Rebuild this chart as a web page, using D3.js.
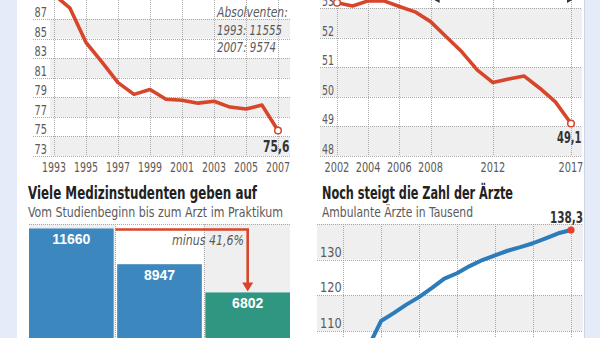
<!DOCTYPE html>
<html><head><meta charset="utf-8">
<script src="https://cdn.jsdelivr.net/npm/d3@7"></script>
<style>body{margin:0;background:#fff}svg{display:block}</style>
</head><body><svg id="c" width="600" height="338"></svg>
<script>
// ---- Panel A: Absolventen-Quote (top left)
const gradYears = [1993,1994,1995,1996,1997,1998,1999,2000,2001,2002,2003,2004,2005,2006,2007];
const gradShare = [89.5,88.1,84.6,82.6,80.5,79.3,79.8,78.8,78.7,78.4,78.6,78.0,77.8,78.2,75.6];
const gradTicksY = [73,75,77,79,81,83,85,87];
const gradTicksX = [1993,1995,1997,1999,2001,2003,2005,2007];
const gradNote = ["Absolventen:","1993: 11555","2007: 9574"];
const gradEndLabel = "75,6";

// ---- Panel B: top right
const bYears = [2002,2003,2004,2005,2006,2007,2008,2009,2010,2011,2012,2013,2014,2015,2016,2017];
const bValues = [53.18,53.07,53.24,53.24,53.05,52.87,52.54,52.03,51.52,50.9,50.48,50.6,50.7,50.29,49.83,49.1];
const bTicksY = [48,49,50,51,52,53];
const bTicksX = [2002,2004,2006,2008,2012,2017];
const bEndLabel = "49,1";

// ---- Panel C: Studienabbruch (bottom left)
const studTitle = "Viele Medizinstudenten geben auf";
const studSub = "Vom Studienbeginn bis zum Arzt im Praktikum";
const studCats = ["Studienbeginn","Examen","Arzt im Praktikum"];
const studValues = [11660,8947,6802];
const studLabels = ["11660","8947","6802"];
const studDrop = "minus 41,6%";

// ---- Panel D: Ambulante Ärzte (bottom right)
const docTitle = "Noch steigt die Zahl der Ärzte";
const docSub = "Ambulante Ärzte in Tausend";
const docYears = [1989,1990,1991,1992,1993,1994,1995,1996,1997,1998,1999,2000,2001,2002,2003,2004,2005];
const docValues = [105.5,112.8,115.0,117.4,119.5,122.0,124.7,126.2,128.2,129.9,131.2,132.5,133.5,134.6,136.0,137.4,138.3];
const docTicksY = [110,120,130];
const docGridX = [1987,1990,1993,1996,1999,2002,2005];
const docEndLabel = "138,3";

const svg = d3.select("#c");
const NARROW = "'Liberation Sans Narrow','DejaVu Sans Condensed',sans-serif";
const RED = "#d7462b", BLUE = "#2c7cb9", GRAY_BAND = "#efefef", GRID = "#a9a9a9", TXT = "#5a5a5a";

// squeeze condensed-looking labels to the reference widths
function fit(sel, perChar){
  sel.attr("textLength", d => String(d).length*perChar).attr("lengthAdjust","spacingAndGlyphs");
}

// background
svg.append("rect").attr("width",600).attr("height",338).attr("fill","#e5ebf8");
svg.append("rect").attr("x",17).attr("width",567).attr("height",338).attr("fill","#fff");
svg.append("line").attr("x1",584.5).attr("x2",584.5).attr("y1",0).attr("y2",338).attr("stroke","#cfd5e2");

function hgrid(g, ticks, y, x0, x1){
  g.selectAll(null).data(ticks).join("line")
   .attr("x1",x0).attr("x2",x1).attr("y1",d=>Math.round(y(d))+0.5).attr("y2",d=>Math.round(y(d))+0.5)
   .attr("stroke",GRID).attr("stroke-dasharray","1,1");
}
function vgrid(g, ticks, x, y0, y1){
  g.selectAll(null).data(ticks).join("line")
   .attr("x1",d=>Math.round(x(d))+0.5).attr("x2",d=>Math.round(x(d))+0.5).attr("y1",y0).attr("y2",y1)
   .attr("stroke",GRID).attr("stroke-dasharray","1,1");
}

// ===== Panel A
{
  const x = d3.scaleLinear().domain([1993,2007]).range([54,278]);
  const y = d3.scaleLinear().domain([73,87]).range([156,19]);
  const g = svg.append("g");
  g.selectAll(null).data(gradTicksY.filter((d,i)=>i%2===0)).join("rect")
    .attr("x",50).attr("width",240).attr("y",d=>y(d+2)).attr("height",d=>y(d)-y(d+2)).attr("fill",GRAY_BAND);
  hgrid(g, gradTicksY, y, 33, 290);
  vgrid(g, gradTicksX, x, 0, 156);
  g.selectAll(null).data(gradTicksY).join("text")
    .attr("x",47).attr("y",d=>y(d)-2).attr("text-anchor","end")
    .attr("font-family",NARROW).attr("font-size",13.5).attr("fill",TXT).text(d=>d).call(fit,6.2);
  g.selectAll(null).data(gradTicksX).join("text")
    .attr("x",d=>x(d)-12).attr("y",172)
    .attr("font-family",NARROW).attr("font-size",13.5).attr("fill",TXT).text(d=>d).call(fit,6);
  const line = d3.line().x((d,i)=>x(gradYears[i])).y(d=>y(d));
  g.append("path").datum(gradShare).attr("d",line).attr("fill","none")
    .attr("stroke",RED).attr("stroke-width",3.6).attr("stroke-linejoin","round");
  const n = gradYears.length-1;
  g.append("circle").attr("cx",x(gradYears[n])).attr("cy",y(gradShare[n])).attr("r",3.3)
    .attr("fill","#fff").attr("stroke",RED).attr("stroke-width",1.5);
  g.append("text").datum(gradEndLabel).attr("x",263).attr("y",y(gradShare[n])+21)
    .attr("font-family",NARROW).attr("font-weight","bold").attr("font-size",15).attr("fill","#333")
    .text(d=>d).call(fit,6.6);
  g.selectAll(null).data(gradNote).join("text")
    .attr("x",217).attr("y",(d,i)=>17+i*17.5).attr("font-style","italic")
    .attr("font-family",NARROW).attr("font-size",14).attr("fill",TXT).text(d=>d).call(fit,5.9);
}

// ===== Panel B
{
  const x = d3.scaleLinear().domain([2002,2017]).range([337,571]);
  const y = d3.scaleLinear().domain([48,53]).range([156,8]);
  const g = svg.append("g");
  g.selectAll(null).data([48,50,52]).join("rect")
    .attr("x",320).attr("width",262).attr("y",d=>y(d+1)).attr("height",d=>y(d)-y(d+1)).attr("fill",GRAY_BAND);
  hgrid(g, bTicksY, y, 320, 582);
  vgrid(g, bTicksX, x, 0, 156);
  g.selectAll(null).data(bTicksY).join("text")
    .attr("x",322).attr("y",d=>y(d)-2)
    .attr("font-family",NARROW).attr("font-size",13.5).attr("fill",TXT).text(d=>d).call(fit,6);
  g.selectAll(null).data(bTicksX).join("text")
    .attr("x",d=>x(d)-12.5).attr("y",172)
    .attr("font-family",NARROW).attr("font-size",13.5).attr("fill",TXT).text(d=>d).call(fit,6.2);
  const line = d3.line().x((d,i)=>x(bYears[i])).y(d=>y(d));
  g.append("path").datum(bValues).attr("d",line).attr("fill","none")
    .attr("stroke",RED).attr("stroke-width",3.6).attr("stroke-linejoin","round");
  const n = bYears.length-1;
  [0,n].forEach(i=>{
    g.append("circle").attr("cx",x(bYears[i])).attr("cy",y(bValues[i])).attr("r",3.3)
      .attr("fill","#fff").attr("stroke",RED).attr("stroke-width",1.5);
  });
  g.append("text").datum(bEndLabel).attr("x",557).attr("y",y(bValues[n])+20)
    .attr("font-family",NARROW).attr("font-weight","bold").attr("font-size",15).attr("fill","#333")
    .text(d=>d).call(fit,6.1);
  // cut-off double arrow above the chart
  g.append("path").attr("d",`M${x(2008)+2},-1 L${x(2008)+9},-5 L${x(2008)+9},3 Z`).attr("fill","#333");
  g.append("path").attr("d",`M${x(2017)+3},-1 L${x(2017)-4},-5 L${x(2017)-4},3 Z`).attr("fill","#333");
}

// ===== Panel C
{
  const g = svg.append("g");
  g.append("text").attr("x",28).attr("y",199).attr("font-family",NARROW).attr("font-weight","bold")
    .attr("font-size",17).attr("fill","#222").attr("textLength",229).attr("lengthAdjust","spacingAndGlyphs").text(studTitle);
  g.append("text").attr("x",28).attr("y",217).attr("font-family",NARROW)
    .attr("font-size",13.5).attr("fill",TXT).attr("textLength",255).attr("lengthAdjust","spacingAndGlyphs").text(studSub);
  const x = d3.scaleBand().domain(studCats).range([29,290]).paddingInner(0.04);
  const y = d3.scaleLinear().domain([0,12000]).range([382,224]);
  const bw = x.bandwidth(), gap = x.step()-bw;
  const left = i => i===0 ? 29 : x(studCats[i]) - gap/2;
  const right = i => i===studCats.length-1 ? 290 : x(studCats[i]) + bw + gap/2;
  g.selectAll(null).data(studCats.filter((d,i)=>i%2===0)).join("rect")
    .attr("x",d=>left(studCats.indexOf(d))).attr("width",d=>right(studCats.indexOf(d))-left(studCats.indexOf(d)))
    .attr("y",y(12000)).attr("height",338-y(12000)).attr("fill",GRAY_BAND);
  g.append("line").attr("x1",29).attr("x2",290).attr("y1",y(12000)+0.5).attr("y2",y(12000)+0.5)
    .attr("stroke",GRID).attr("stroke-dasharray","1,1");
  g.selectAll(null).data([0,1]).join("line")
    .attr("x1",i=>Math.round(right(i))+0.5).attr("x2",i=>Math.round(right(i))+0.5)
    .attr("y1",y(12000)).attr("y2",338).attr("stroke",GRID).attr("stroke-dasharray","1,1");
  g.selectAll(null).data(studValues).join("rect")
    .attr("x",(d,i)=>x(studCats[i])).attr("width",bw).attr("y",d=>y(d)).attr("height",d=>338-y(d))
    .attr("fill",(d,i)=>i===2 ? "#2f9682" : "#3d87bf");
  g.selectAll(null).data(studValues).join("text")
    .attr("x",(d,i)=>x(studCats[i])+bw/2).attr("y",d=>y(d)+15.5).attr("text-anchor","middle")
    .attr("font-family","'Liberation Sans',Arial,sans-serif").attr("font-weight","bold").attr("font-size",14)
    .attr("fill","#fff").text((d,i)=>studLabels[i]);
  const xs = right(0), xe = x(studCats[2])+bw/2, y0 = y(studValues[0])+1, y1 = y(studValues[2]);
  g.append("path").attr("d",`M${xs},${y0} H${xe} V${y1-8}`).attr("fill","none")
    .attr("stroke",RED).attr("stroke-width",2.6);
  g.append("path").attr("d",`M${xe-5.5},${y1-10} L${xe+5.5},${y1-10} L${xe},${y1-1} Z`).attr("fill",RED);
  g.append("text").datum(studDrop).attr("x",172).attr("y",245).attr("font-style","italic")
    .attr("font-family",NARROW).attr("font-size",14).attr("fill",TXT).text(d=>d)
    .attr("textLength",72).attr("lengthAdjust","spacingAndGlyphs");
}

// ===== Panel D
{
  const g = svg.append("g");
  g.append("text").attr("x",322).attr("y",199).attr("font-family",NARROW).attr("font-weight","bold")
    .attr("font-size",17).attr("fill","#222").attr("textLength",191).attr("lengthAdjust","spacingAndGlyphs").text(docTitle);
  g.append("text").attr("x",322).attr("y",217).attr("font-family",NARROW)
    .attr("font-size",13.5).attr("fill",TXT).attr("textLength",151).attr("lengthAdjust","spacingAndGlyphs").text(docSub);
  const x = d3.scaleLinear().domain([1987,2005]).range([343,571]);
  const y = d3.scaleLinear().domain([110,140]).range([331,224]);
  g.selectAll(null).data([100,110,130]).join("rect")
    .attr("x",317).attr("width",266).attr("y",d=>y(d+10)).attr("height",d=>y(d)-y(d+10))
    .attr("fill",d=>d===100 ? "#fff" : GRAY_BAND);
  hgrid(g, [110,120,130,140], y, 317, 583);
  vgrid(g, docGridX, x, y(140), 338);
  g.selectAll(null).data(docTicksY).join("text")
    .attr("x",320).attr("y",d=>y(d)-3)
    .attr("font-family",NARROW).attr("font-size",14.5).attr("fill",TXT).text(d=>d).call(fit,7.2);
  const line = d3.line().x((d,i)=>x(docYears[i])).y(d=>y(d));
  g.append("path").datum(docValues).attr("d",line).attr("fill","none")
    .attr("stroke",BLUE).attr("stroke-width",4).attr("stroke-linejoin","round");
  const n = docYears.length-1;
  g.append("circle").attr("cx",x(docYears[n])).attr("cy",y(docValues[n])).attr("r",3.6).attr("fill","#e2412b");
  g.append("text").datum(docEndLabel).attr("x",550).attr("y",y(docValues[n])-7)
    .attr("font-family",NARROW).attr("font-weight","bold").attr("font-size",15).attr("fill","#333")
    .text(d=>d).call(fit,6.6);
}
</script></body></html>
